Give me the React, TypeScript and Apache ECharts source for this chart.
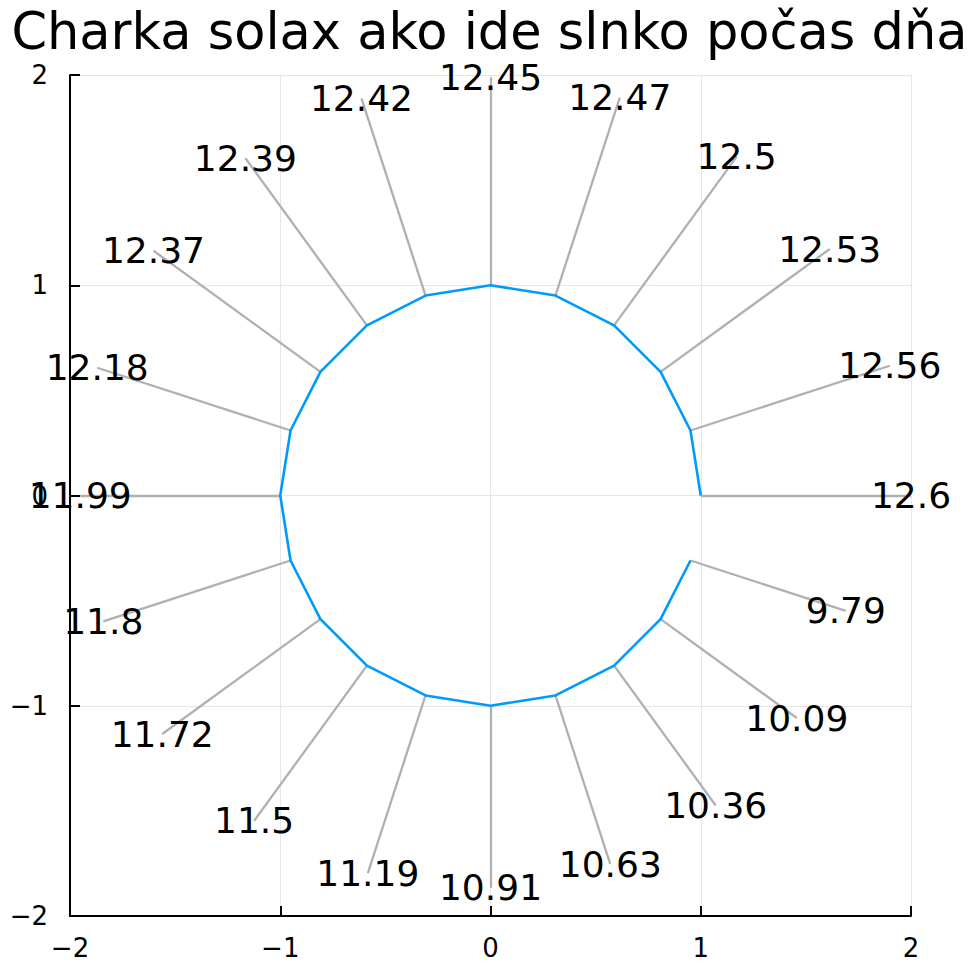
import React, { useEffect, useRef } from 'react'
import * as echarts from 'echarts'

// hourly readings, placed around the circle (degrees)
const angles = [0, 18, 36, 54, 72, 90, 108, 126, 144, 162, 180, 198, 216, 234, 252, 270, 288, 306, 324, 342]
const values = [
    12.6, 12.56, 12.53, 12.5, 12.47, 12.45, 12.42, 12.39, 12.37, 12.18,
    11.99, 11.8, 11.72, 11.5, 11.19, 10.91, 10.63, 10.36, 10.09, 9.79,
]
const axisMin = -2
const axisMax = 2
const axisStep = 1

const title = 'Charka solax ako ide slnko počas dňa'
const FONT = "'DejaVu Sans', sans-serif"

const fmtTick = (v: number) => (v < 0 ? '\u2212' + Math.abs(v) : String(v))

const App: React.FC = () => {
    const chartRef = useRef<HTMLDivElement | null>(null)

    useEffect(() => {
        if (!chartRef.current) return
        const chart = echarts.init(chartRef.current, undefined, { renderer: 'svg' })

        const maxV = Math.max(...values)
        const rad = angles.map((a) => (a * Math.PI) / 180)
        const inner = rad.map((r) => [Math.cos(r), Math.sin(r)])
        const outer = rad.map((r, i) => {
            const len = 1 + values[i] / maxV
            return [len * Math.cos(r), len * Math.sin(r), values[i]]
        })

        const axisCommon = {
            type: 'value',
            min: axisMin,
            max: axisMax,
            interval: axisStep,
            axisLine: { show: true, onZero: false, lineStyle: { color: '#000', width: 2 } },
            axisTick: { show: true, inside: true, length: 10, lineStyle: { color: '#000', width: 2 } },
            splitLine: { show: true, lineStyle: { color: '#e6e6e6', width: 1 } },
            axisLabel: {
                color: '#000',
                fontSize: 26,
                fontFamily: FONT,
                formatter: fmtTick,
            },
        }

        chart.setOption({
            animation: false,
            backgroundColor: '#fff',
            title: {
                text: title,
                left: 'center',
                top: 0,
                textStyle: { fontSize: 51, fontWeight: 'normal', fontFamily: FONT, color: '#000', lineHeight: 52 },
            },
            grid: { left: 70, right: 68, top: 75, bottom: 56 },
            xAxis: { ...axisCommon, axisLabel: { ...axisCommon.axisLabel, margin: 19 } },
            yAxis: { ...axisCommon, axisLabel: { ...axisCommon.axisLabel, margin: 22 } },
            series: [
                {
                    type: 'lines',
                    coordinateSystem: 'cartesian2d',
                    silent: true,
                    z: 2,
                    lineStyle: { color: '#b0b0b0', width: 2.3, opacity: 1 },
                    data: inner.map((p, i) => ({ coords: [p, [outer[i][0], outer[i][1]]] })),
                },
                {
                    type: 'line',
                    z: 3,
                    showSymbol: false,
                    lineStyle: { color: '#009afa', width: 2.6 },
                    data: inner,
                },
                {
                    type: 'scatter',
                    z: 4,
                    symbolSize: 0,
                    silent: true,
                    itemStyle: { opacity: 1 },
                    label: {
                        show: true,
                        position: 'inside',
                        color: '#000',
                        textBorderWidth: 0,
                        fontSize: 36,
                        fontFamily: FONT,
                        formatter: (p: any) => String(p.value[2]),
                    },
                    data: outer,
                },
            ],
        })

        return () => {
            chart.dispose()
        }
    }, [])

    return <div ref={chartRef} style={{ position: 'absolute', left: 0, top: 0, width: 979, height: 972 }} />
}

export default App
